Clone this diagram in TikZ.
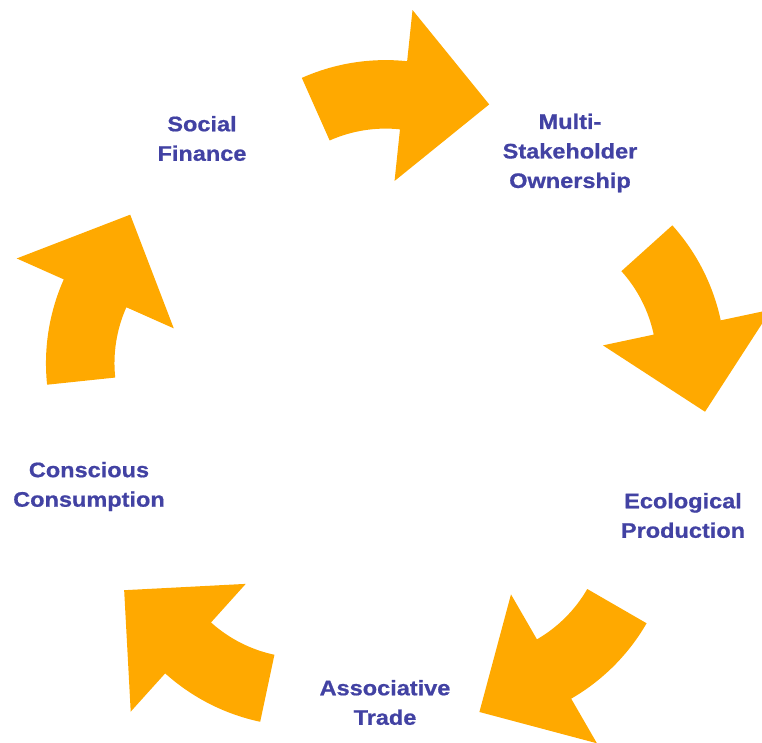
\documentclass[tikz,border=0pt]{standalone}
\usepackage{fontspec}
\newfontfamily\lblfont{Liberation Sans}[FakeStretch=1.12, BoldFeatures={FakeBold=0.8}]
\definecolor{arroworange}{RGB}{255,169,0}
\definecolor{labelblue}{RGB}{66,66,163}
\tikzset{
  cyclearrow/.style={fill=arroworange, draw=none},
  cyclelabel/.style={text=labelblue, font=\lblfont\bfseries\fontsize{21}{29.5}\selectfont, align=center, inner sep=0pt},
}
\begin{document}
\begin{tikzpicture}
\useasboundingbox (0,0) rectangle (762pt,742pt);
\clip (0,0) rectangle (762pt,742pt);
\foreach \k in {0,...,4}{
  \begin{scope}[shift={(385.6pt,335.4pt)}, rotate=-72*\k, shift={(0pt,140.5pt)}]
    \fill[cyclearrow] (114:206pt) arc[start angle=114, end angle=84, radius=206pt]
      -- (84:257.5pt) -- (103.6pt,161.7pt) -- (84:85.6pt) -- (84:137.5pt)
      arc[start angle=84, end angle=114, radius=137.5pt] -- cycle;
  \end{scope}
}
\node[cyclelabel] (social) at (202pt,603.5pt) {Social\\Finance};
\node[cyclelabel] (multi) at (570pt,589pt) {Multi-\\Stakeholder\\Ownership};
\node[cyclelabel] (eco) at (683pt,226.5pt) {Ecological\\Production};
\node[cyclelabel] (assoc) at (385pt,39.5pt) {Associative\\Trade};
\node[cyclelabel] (consc) at (89pt,255.5pt) {Conscious\\Consumption};
\end{tikzpicture}
\end{document}
